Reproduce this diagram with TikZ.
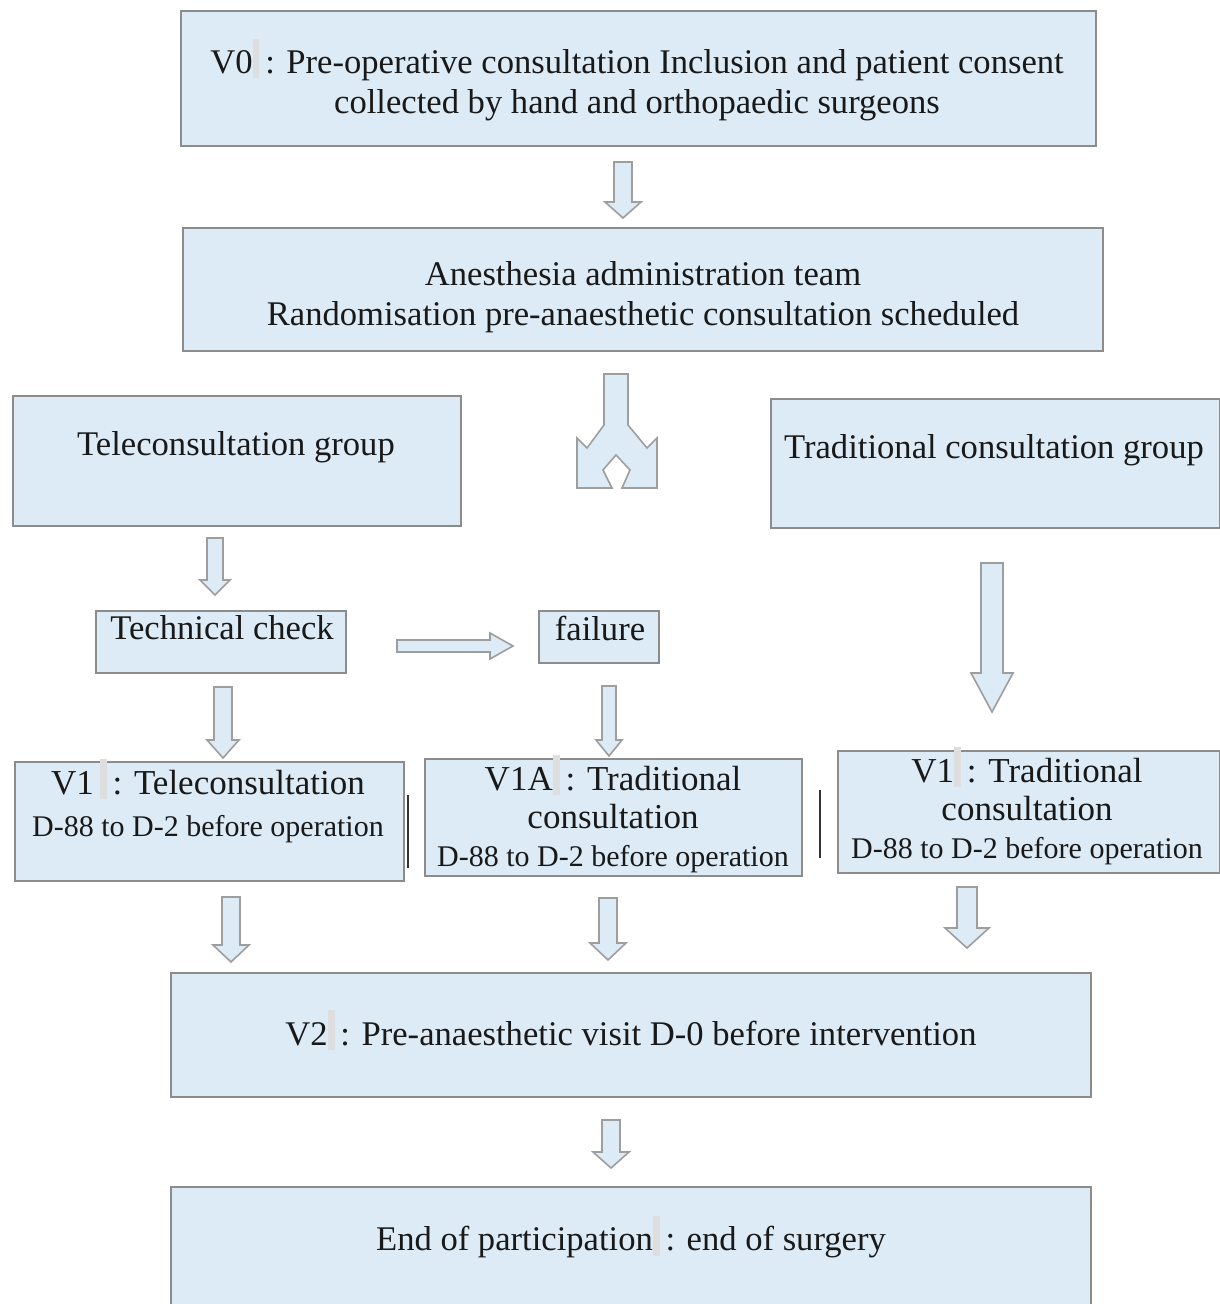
\documentclass[tikz,border=0pt]{standalone}
\usepackage{fontspec}
\setmainfont{Liberation Serif}
\usetikzlibrary{calc}
\definecolor{boxblue}{RGB}{221,235,246}
\colorlet{boxline}{black!45}
\colorlet{arrowline}{black!38}
\colorlet{inkgrey}{black!90}

\begin{document}
\begin{tikzpicture}[x=0.5pt,y=-0.5pt,
    box/.style={draw=boxline, line width=0.9pt, fill=boxblue, anchor=north west, inner sep=0pt},
    txt/.style={text=inkgrey, align=center, inner sep=0pt, font=\fontsize{17.3}{20}\selectfont},
    bigtxt/.style={txt, font=\fontsize{17.5}{19}\selectfont},
    blockarrow/.style={draw=arrowline, fill=boxblue, line width=0.8pt, line join=miter}]
		\newcommand\gmark{\textcolor{black!13}{\rule[-0.3ex]{0.2em}{2.5ex}}}
		\newcommand\smallline[1]{{\fontsize{15}{17}\selectfont #1}}
		\newcommand\flowbox[5]{%
		    \node[box, minimum width=#4*0.5pt, minimum height=#5*0.5pt] (#1) at (#2,#3) {};
		}
		\newcommand\downblock[6]{%
		    \draw[blockarrow] (#1-#5,#2) -- (#1+#5,#2) -- (#1+#5,#3) -- (#1+#6,#3) -- (#1,#4)
		        -- (#1-#6,#3) -- (#1-#5,#3) -- cycle;
		}

		\useasboundingbox (0,0) rectangle (1219,1304);

		% boxes
		\flowbox{v0}{180}{10}{915}{135};
		\flowbox{team}{182}{227}{920}{123};
		\flowbox{tele}{12}{395}{448}{130};
		\flowbox{trad}{770}{398}{449}{129};
		\flowbox{check}{95}{610}{250}{62};
		\flowbox{fail}{538}{610}{120}{52};
		\flowbox{vtele}{14}{761}{389}{119};
		\flowbox{vfail}{424}{758}{377}{117};
		\flowbox{vtrad}{837}{750}{382}{122};
		\flowbox{vtwo}{170}{972}{920}{124};
		\flowbox{finish}{170}{1186}{920}{130};

		% labels
		\node[txt] (v0txt) at (637,80) {V0\gmark\,: Pre-operative consultation Inclusion and patient consent\\collected by hand and orthopaedic surgeons};
		\node[txt] (teamtxt) at (643,297) {Anesthesia administration team\\Randomisation pre-anaesthetic consultation scheduled};
		\node[txt] (teletxt) at (236,447) {Teleconsultation group};
		\node[txt] (tradtxt) at (994,450) {Traditional consultation group};
		\node[txt] (checktxt) at (222,628) {Technical check};
		\node[txt] (failtxt) at (600,628) {failure};
		\node[bigtxt] (vteletxt) at (208,801) {V1\,\gmark\,: Teleconsultation\\[2pt]\smallline{D-88 to D-2 before operation}};
		\node[bigtxt] (vfailtxt) at (613,814) {V1A\gmark\,: Traditional\\consultation\\\smallline{D-88 to D-2 before operation}};
		\node[bigtxt] (vtradtxt) at (1027,806) {V1\gmark\,: Traditional\\consultation\\\smallline{D-88 to D-2 before operation}};
		\node[txt] (vtwotxt) at (631,1030) {V2\gmark\,: Pre-anaesthetic visit D-0 before intervention};
		\node[txt] (finishtxt) at (631,1237) {End of participation\gmark\,: end of surgery};

		% block arrows
		\downblock{623}{162}{202}{218}{9}{18};
		\downblock{215}{538}{580}{595}{8}{15};
		\downblock{992}{563}{673}{712}{11}{21};
		\downblock{223}{687}{740}{758}{9}{16};
		\downblock{609}{686}{740}{756}{7}{13};
		\downblock{231}{897}{945}{962}{9}{18};
		\downblock{608}{898}{943}{960}{9}{18};
		\downblock{967}{887}{928}{948}{10}{22};
		\downblock{611}{1120}{1152}{1168}{9}{18};
		\draw[blockarrow] (397,640) -- (490,640) -- (490,633) -- (513,646) -- (490,659) -- (490,652) -- (397,652) -- cycle;

		% fork
		\draw[blockarrow] (604,374) -- (628,374) -- (628,425) -- (647,448) -- (657,438) -- (657,488)
		    -- (622,488) -- (630,470) -- (616,455) -- (603,470) -- (612,488) -- (577,488)
		    -- (577,438) -- (587,448) -- (604,425) -- cycle;

		% side bars
		\draw[black!80, line width=1pt] (408,795) -- (408,868);
		\draw[black!80, line width=1pt] (820,790) -- (820,858);
	\end{tikzpicture}
\end{document}
